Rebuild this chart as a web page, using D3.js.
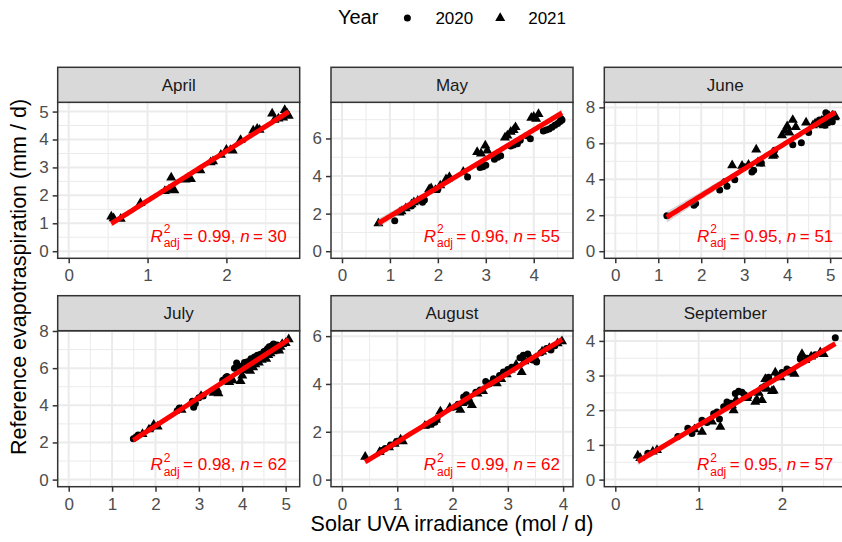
<!DOCTYPE html>
<html>
<head>
<meta charset="utf-8">
<script src="https://cdn.jsdelivr.net/npm/d3@7"></script>
<style>
  body { margin: 0; background: #fff; }
  text { font-family: "Liberation Sans", Arial, Helvetica, sans-serif; }
</style>
</head>
<body>
<svg id="chart" width="842" height="542"></svg>
<script>
/*------------------- data -------------------*/
const months = ["April", "May", "June", "July", "August", "September"];
const r2Labels = ["0.99", "0.96", "0.95", "0.98", "0.99", "0.95"];
const nLabels = ["30", "55", "51", "62", "62", "57"];
const years = ["2020", "2021"];

// tick breaks chosen by ggplot for each free scale
const xTicks = [[0, 1, 2], [0, 1, 2, 3, 4], [0, 1, 2, 3, 4, 5], [0, 1, 2, 3, 4, 5], [0, 1, 2, 3, 4], [0, 1, 2]];
const yTicks = [[0, 1, 2, 3, 4, 5], [0, 2, 4, 6], [0, 2, 4, 6, 8], [0, 2, 4, 6, 8], [0, 2, 4, 6], [0, 1, 2, 3, 4]];

// [UVA, ET0] pairs, circles = 2020, triangles = 2021
const april2020 = [];
const april2021 = [[0.54,1.24],[0.57,1.18],[0.66,1.16],[0.91,1.72],[1.22,2.15],[1.27,2.2],[1.30,2.64],[1.31,2.24],[1.34,2.18],[1.48,2.56],[1.52,2.61],[1.55,2.58],[1.67,2.9],[1.80,3.18],[1.83,3.22],[1.93,3.45],[2.0,3.63],[2.05,3.62],[2.08,3.6],[2.18,3.98],[2.34,4.32],[2.39,4.38],[2.42,4.35],[2.58,4.93],[2.61,4.7],[2.66,4.75],[2.72,4.78],[2.74,5.05],[2.77,4.93],[2.79,4.85]];

const may2020 = [[1.1,1.62],[1.45,2.4],[1.68,2.6],[1.72,2.72],[2.0,3.3],[2.25,3.85],[2.62,3.95],[2.88,4.45],[2.94,4.5],[3.0,4.58],[3.18,4.9],[3.25,5.0],[3.31,5.08],[3.52,5.6],[3.58,5.65],[3.66,5.72],[3.72,5.9],[3.86,6.15],[3.93,5.98],[4.2,6.4],[4.26,6.45],[4.32,6.5],[4.38,6.6],[4.44,6.7],[4.5,6.8],[4.55,6.9],[4.59,6.98],[4.57,7.05]];
const may2021 = [[0.76,1.48],[1.2,2.05],[1.24,2.12],[1.33,2.28],[1.45,2.5],[1.5,2.6],[1.58,2.68],[1.82,3.3],[1.86,3.35],[1.95,3.25],[2.05,3.5],[2.17,3.82],[2.24,3.95],[2.53,4.22],[2.82,5.27],[2.9,5.2],[2.99,5.62],[3.03,5.35],[3.4,6.05],[3.45,6.15],[3.52,6.35],[3.58,6.45],[3.62,6.6],[3.95,7.1],[4.0,7.15],[4.1,7.3],[4.05,7.05]];

const june2020 = [[1.2,1.97],[1.83,2.55],[1.87,2.65],[2.43,3.4],[2.55,3.88],[2.6,3.62],[2.78,3.97],[3.0,4.7],[3.18,4.4],[3.22,4.5],[3.4,4.9],[3.71,5.62],[4.13,5.92],[4.33,6.03],[4.5,6.6],[4.7,7.1],[4.75,7.3],[4.8,7.2],[4.85,7.35],[4.9,7.7],[4.93,7.6],[4.95,7.15],[5.0,7.3],[5.02,7.45],[5.05,7.2],[4.88,7.0]];
const june2021 = [[2.72,4.78],[2.95,4.75],[3.1,4.8],[3.28,5.65],[3.32,4.95],[3.38,4.88],[3.67,5.3],[3.7,5.38],[3.88,6.45],[3.95,6.7],[4.0,6.95],[4.05,6.6],[4.13,7.3],[4.2,6.9],[4.44,7.15],[4.6,7.0],[4.65,7.1],[4.72,7.05],[4.8,7.25],[4.9,7.4],[4.98,7.5],[5.05,7.55],[5.1,7.45],[5.12,7.5],[4.85,7.0]];

const july2020 = [[1.49,2.2],[1.55,2.3],[1.6,2.4],[1.9,2.75],[2.5,3.7],[2.55,3.85],[2.85,4.22],[2.88,3.9],[2.92,4.1],[3.0,4.4],[3.1,4.5],[3.55,5.35],[3.62,5.5],[3.65,5.55],[3.82,6.0],[3.87,6.28],[3.95,6.1],[4.05,6.3],[4.12,6.35],[4.2,6.5],[4.28,6.6],[4.35,6.7],[4.42,6.75],[4.5,6.9],[4.55,6.95],[4.62,7.15],[4.68,7.2],[4.72,7.3],[4.8,7.25],[4.58,7.05],[4.25,6.45]];
const july2021 = [[1.7,2.45],[1.85,2.7],[1.96,2.95],[2.05,2.85],[2.6,3.75],[3.05,4.5],[3.34,4.67],[3.42,4.85],[3.45,4.65],[3.7,5.25],[3.78,5.35],[3.96,5.3],[4.0,5.6],[4.1,5.9],[4.18,5.85],[4.25,6.05],[4.3,6.2],[4.38,6.3],[4.45,6.45],[4.5,6.55],[4.55,6.5],[4.6,6.7],[4.65,6.8],[4.7,6.9],[4.75,6.95],[4.82,7.1],[4.88,7.15],[4.92,7.3],[5.0,7.35],[5.07,7.55],[4.85,6.95]];

const august2020 = [[0.72,1.22],[0.78,1.3],[0.88,1.45],[1.0,1.6],[1.55,2.28],[1.62,2.33],[1.68,2.4],[1.72,2.55],[2.05,3.05],[2.1,3.15],[2.2,3.45],[2.25,3.55],[2.3,3.3],[2.42,3.65],[2.5,3.75],[2.6,4.1],[2.66,4.0],[2.74,4.22],[2.85,4.35],[2.92,4.5],[3.0,4.6],[3.07,4.7],[3.22,5.1],[3.28,5.2],[3.36,5.25],[3.45,5.0],[3.52,4.92],[3.6,5.3],[3.7,5.48],[3.78,5.42],[3.85,5.6]];
const august2021 = [[0.42,0.95],[0.68,1.15],[0.85,1.35],[0.95,1.5],[1.06,1.67],[1.1,1.6],[1.5,2.25],[1.58,2.3],[1.7,2.5],[1.78,2.85],[1.95,3.0],[2.14,2.92],[2.18,3.2],[2.28,3.25],[2.35,3.12],[2.45,3.6],[2.55,3.7],[2.7,4.05],[2.8,4.03],[2.88,4.2],[2.98,4.4],[3.05,4.6],[3.15,4.8],[3.25,4.5],[3.3,4.95],[3.4,5.1],[3.5,5.07],[3.62,5.35],[3.75,5.5],[3.9,5.7],[3.98,5.78]];

const september2020 = [[0.39,0.76],[0.75,1.24],[0.87,1.48],[0.92,1.33],[1.04,1.71],[1.1,1.65],[1.18,1.9],[1.22,1.95],[1.3,2.1],[1.34,2.24],[1.38,2.2],[1.44,2.48],[1.48,2.55],[1.52,2.52],[1.55,2.45],[1.6,2.4],[1.76,2.65],[1.8,2.71],[1.84,2.95],[1.95,3.0],[2.0,3.09],[2.06,3.19],[2.1,3.15],[2.22,3.48],[2.3,3.5],[2.4,3.6],[2.64,4.09],[1.25,1.75]];
const september2021 = [[0.27,0.69],[0.3,0.62],[0.45,0.81],[0.5,0.85],[0.95,1.45],[1.04,1.38],[1.16,1.67],[1.26,1.52],[1.4,2.14],[1.42,2.0],[1.45,2.3],[1.68,2.24],[1.7,2.3],[1.76,2.29],[1.82,2.62],[1.8,2.9],[1.88,2.55],[1.9,2.57],[1.92,3.09],[1.98,2.95],[2.12,3.09],[2.15,3.05],[2.24,3.62],[2.28,3.45],[2.35,3.55],[2.46,3.67],[2.5,3.62],[1.72,2.5],[1.58,2.35]];

const byMonth2020 = [april2020, may2020, june2020, july2020, august2020, september2020];
const byMonth2021 = [april2021, may2021, june2021, july2021, august2021, september2021];

/*------------------------- layout -------------------------*/
const svg = d3.select("#chart");
const left0 = 57.7, colStep = 273.3, panelW = 242;
const top0 = 102.3, rowStep = 228.4, panelH = 156, stripH = 35;
const smallFont = 17, titleFont = 21.5;
const gridCol = "#EBEBEB", borderCol = "#333333";

const triangle = d3.symbol().type(d3.symbolTriangle).size(44);

// ordinary least squares + 95% band (like geom_smooth(method = "lm"))
function lmFit(pts) {
    const n = pts.length;
    const mx = d3.mean(pts, d => d[0]), my = d3.mean(pts, d => d[1]);
    const sxx = d3.sum(pts, d => (d[0] - mx) ** 2);
    const sxy = d3.sum(pts, d => (d[0] - mx) * (d[1] - my));
    const b = sxy / sxx, a = my - b * mx;
    const s2 = d3.sum(pts, d => (d[1] - a - b * d[0]) ** 2) / (n - 2);
    const t = 2.0;
    const [x0, x1] = d3.extent(pts, d => d[0]);
    return d3.range(0, 81).map(i => {
        const x = x0 + (x1 - x0) * i / 80;
        const se = Math.sqrt(s2 * (1 / n + (x - mx) ** 2 / sxx));
        const y = a + b * x;
        return { x: x, y: y, lo: y - t * se, hi: y + t * se };
    });
}

months.forEach((month, i) => {
    const col = i % 3, row = Math.floor(i / 3);
    const px = left0 + col * colStep, py = top0 + row * rowStep;
    const p20 = byMonth2020[i], p21 = byMonth2021[i];
    const all = p20.concat(p21);
    const band = lmFit(all);

    // expand_limits(x = 0, y = 0) + default 5% expansion
    const xmax = d3.max(all, d => d[0]);
    const ymax = Math.max(d3.max(all, d => d[1]), d3.max(band, d => d.hi));
    const x = d3.scaleLinear().domain([-0.05 * xmax, 1.05 * xmax]).range([px, px + panelW]);
    const y = d3.scaleLinear().domain([-0.05 * ymax, 1.05 * ymax]).range([py + panelH, py]);

    const g = svg.append("g");
    const clipId = "clip" + i;
    g.append("clipPath").attr("id", clipId)
        .append("rect").attr("x", px).attr("y", py).attr("width", panelW).attr("height", panelH);

    g.append("rect").attr("x", px).attr("y", py).attr("width", panelW).attr("height", panelH).attr("fill", "#fff");

    // minor grid halfway between breaks
    const minor = (ticks, dom) => {
        const step = ticks[1] - ticks[0];
        return [ticks[0] - step / 2].concat(ticks.map(t => t + step / 2))
            .filter(v => v >= dom[0] && v <= dom[1]);
    };
    const grid = g.append("g").attr("clip-path", `url(#${clipId})`);
    grid.selectAll(".vminor").data(minor(xTicks[i], x.domain())).enter().append("line")
        .attr("x1", d => x(d)).attr("x2", d => x(d)).attr("y1", py).attr("y2", py + panelH)
        .attr("stroke", gridCol).attr("stroke-width", 1);
    grid.selectAll(".hminor").data(minor(yTicks[i], y.domain())).enter().append("line")
        .attr("y1", d => y(d)).attr("y2", d => y(d)).attr("x1", px).attr("x2", px + panelW)
        .attr("stroke", gridCol).attr("stroke-width", 1);
    grid.selectAll(".vmajor").data(xTicks[i]).enter().append("line")
        .attr("x1", d => x(d)).attr("x2", d => x(d)).attr("y1", py).attr("y2", py + panelH)
        .attr("stroke", gridCol).attr("stroke-width", 2);
    grid.selectAll(".hmajor").data(yTicks[i]).enter().append("line")
        .attr("y1", d => y(d)).attr("y2", d => y(d)).attr("x1", px).attr("x2", px + panelW)
        .attr("stroke", gridCol).attr("stroke-width", 2);

    const marks = g.append("g").attr("clip-path", `url(#${clipId})`);
    marks.selectAll("circle").data(p20).enter().append("circle")
        .attr("cx", d => x(d[0])).attr("cy", d => y(d[1])).attr("r", 3.5).attr("fill", "#000");
    marks.selectAll(".tri").data(p21).enter().append("path")
        .attr("d", triangle)
        .attr("transform", d => `translate(${x(d[0])},${y(d[1])})`).attr("fill", "#000");

    // smooth ribbon + line
    marks.append("path").datum(band)
        .attr("d", d3.area().x(d => x(d.x)).y0(d => y(d.lo)).y1(d => y(d.hi)))
        .attr("fill", "#999999").attr("fill-opacity", 0.4);
    marks.append("path").datum(band)
        .attr("d", d3.line().x(d => x(d.x)).y(d => y(d.y)))
        .attr("fill", "none").attr("stroke", "#FF0000").attr("stroke-width", 5);

    // R2 label
    const lab = g.append("text")
        .attr("x", px + panelW - 13).attr("y", py + panelH - 16.5)
        .attr("text-anchor", "end").attr("fill", "#FF0000").attr("font-size", smallFont);
    lab.append("tspan").attr("font-style", "italic").text("R");
    lab.append("tspan").attr("font-size", 12).attr("dy", -8.5).attr("dx", 1).text("2");
    lab.append("tspan").attr("font-size", 12).attr("dx", -6.7).attr("dy", 14).text("adj");
    lab.append("tspan").attr("dy", -5.5).text(`\u2009= ${r2Labels[i]}, `);
    lab.append("tspan").attr("font-style", "italic").text("n");
    lab.append("tspan").text(`\u2009= ${nLabels[i]}`);

    // border
    g.append("rect").attr("x", px).attr("y", py).attr("width", panelW).attr("height", panelH)
        .attr("fill", "none").attr("stroke", borderCol).attr("stroke-width", 1.5);

    // strip
    g.append("rect").attr("x", px).attr("y", py - stripH).attr("width", panelW).attr("height", stripH)
        .attr("fill", "#D9D9D9").attr("stroke", borderCol).attr("stroke-width", 1.5);
    g.append("text").attr("x", px + panelW / 2).attr("y", py - stripH / 2 + 6)
        .attr("text-anchor", "middle").attr("font-size", smallFont).attr("fill", "#1A1A1A").text(month);

    // axes
    const xa = g.append("g").attr("transform", `translate(0,${py + panelH})`)
        .call(d3.axisBottom(x).tickValues(xTicks[i]).tickSize(5).tickPadding(6).tickFormat(d3.format("d")));
    const ya = g.append("g").attr("transform", `translate(${px},0)`)
        .call(d3.axisLeft(y).tickValues(yTicks[i]).tickSize(5).tickPadding(4).tickFormat(d3.format("d")));
    [xa, ya].forEach(a => {
        a.select(".domain").remove();
        a.selectAll(".tick line").attr("stroke", borderCol).attr("stroke-width", 1.5);
        a.selectAll(".tick text").attr("fill", "#4D4D4D").attr("font-size", smallFont)
            .attr("font-family", "'Liberation Sans', Arial, sans-serif");
    });
});

/*---------------------- axis titles ----------------------*/
const panelsRight = left0 + 2 * colStep + panelW;
svg.append("text").attr("x", (left0 + panelsRight) / 2).attr("y", 531)
    .attr("text-anchor", "middle").attr("font-size", titleFont).attr("fill", "#000")
    .text("Solar UVA irradiance (mol / d)");
svg.append("text")
    .attr("transform", `translate(26,${(top0 - stripH + top0 + rowStep + panelH) / 2}) rotate(-90)`)
    .attr("text-anchor", "middle").attr("font-size", titleFont).attr("fill", "#000")
    .text("Reference evapotraspiration (mm / d)");

/*------------------------ legend ------------------------*/
const legend = svg.append("g");
const legTitle = legend.append("text").attr("y", 24).attr("font-size", 20).text("Year");
let cursor = legTitle.node().getComputedTextLength() + 29;
years.forEach((yr, k) => {
    if (k === 0) {
        legend.append("circle").attr("cx", cursor).attr("cy", 18).attr("r", 3.5).attr("fill", "#000");
    } else {
        legend.append("path").attr("d", triangle).attr("transform", `translate(${cursor},18)`).attr("fill", "#000");
    }
    const t = legend.append("text").attr("x", cursor + 28).attr("y", 24).attr("font-size", smallFont).text(yr);
    cursor += 28 + t.node().getComputedTextLength() + (k === 0 ? 27 : 0);
});
const legW = legend.node().getBBox().width;
legend.attr("transform", `translate(${(left0 + panelsRight) / 2 - legW / 2},0)`);
</script>
</body>
</html>
